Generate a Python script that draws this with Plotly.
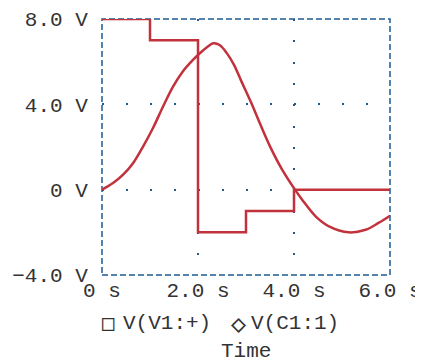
import plotly.graph_objects as go

# Step source V(V1:+)
step_t = [0, 1.0, 2.0, 3.0, 4.0, 6.0]
step_v = [8, 7, -2, -1, 0, 0]

# Capacitor voltage V(C1:1)
cap_t = [0, 0.23, 0.44, 0.65, 0.855, 1.06, 1.27, 1.48, 1.68, 1.89, 2.05, 2.2, 2.32,
         2.45, 2.6, 2.75, 2.9, 3.1, 3.3, 3.5, 3.75, 4.02, 4.17, 4.45, 4.73, 5.14,
         5.49, 5.76, 6.0]
cap_v = [0, 0.31, 0.70, 1.25, 2.02, 2.88, 3.89, 4.83, 5.53, 6.07, 6.42, 6.70, 6.86,
         6.78, 6.40, 5.85, 5.10, 4.12, 3.05, 2.03, 0.95, 0.0, -0.47, -1.25, -1.72, -2.0,
         -1.88, -1.56, -1.22]

x_ticks = [0, 2, 4, 6]
x_labels = ["0 s", "2.0 s", "4.0 s", "6.0 s"]
y_ticks = [-4, 0, 4, 8]
y_labels = ["\u22124.0 V", "0 V", "4.0 V", "8.0 V"]

legend_names = ["V(V1:+)", "V(C1:1)"]
legend_symbols = ["\u25a1", "\u25c7"]

RED = "#c1323d"
BLUE = "#1f5a94"
TXT = "#333333"
FONT = "Liberation Mono, Courier New, monospace"
FS = 21

fig = go.Figure()
fig.add_trace(go.Scatter(x=cap_t, y=cap_v, mode="lines",
                         line=dict(color=RED, width=2.5, shape="spline", smoothing=1.0),
                         name=legend_names[1]))
fig.add_trace(go.Scatter(x=step_t, y=step_v, mode="lines",
                         line=dict(color=RED, width=2.5, shape="hv"), name=legend_names[0]))

ann = []
sym_pos = [6, 136]
sym_size = [21, 25]
lab_pos = [21, 149]
for s, n, sp, ss, lp in zip(legend_symbols, legend_names, sym_pos, sym_size, lab_pos):
    ann.append(dict(text=s, xref="paper", yref="paper", x=0, y=0, xanchor="center",
                    yanchor="middle", xshift=sp, yshift=-48, showarrow=False,
                    font=dict(family="DejaVu Sans Mono", size=ss, color=TXT)))
    ann.append(dict(text=n, xref="paper", yref="paper", x=0, y=0, xanchor="left",
                    yanchor="middle", xshift=lp - 2, yshift=-48, showarrow=False,
                    font=dict(family=FONT, size=FS, color=TXT)))
ann.append(dict(text="Time", xref="paper", yref="paper", x=0.5, y=0,
                xanchor="center", yanchor="middle", yshift=-76, showarrow=False,
                font=dict(family=FONT, size=FS, color=TXT)))

fig.update_layout(
    width=423, height=362,
    margin=dict(l=94, r=41, t=11, b=95),
    paper_bgcolor="white", plot_bgcolor="white",
    showlegend=False,
    font=dict(family=FONT, size=FS, color=TXT),
    xaxis=dict(range=[0, 6], tickvals=x_ticks, ticktext=x_labels, showgrid=True,
               gridcolor=BLUE, gridwidth=2, griddash="2px,19.3px", zeroline=False,
               showline=False, ticks="", automargin=False,
               tickfont=dict(family=FONT, size=FS, color=TXT)),
    yaxis=dict(range=[-4, 8], tickvals=y_ticks, ticktext=y_labels, showgrid=True,
               gridcolor=BLUE, gridwidth=2, griddash="2px,22px", zeroline=False,
               showline=False, ticks="outside", ticklen=9, tickcolor="rgba(0,0,0,0)",
               automargin=False, tickfont=dict(family=FONT, size=FS, color=TXT)),
    shapes=[dict(type="rect", xref="paper", yref="paper", x0=0, x1=1, y0=0, y1=1,
                 line=dict(color=BLUE, width=1.5, dash="6px,3px"), layer="below")],
    annotations=ann,
)

fig.write_html("out.html")
